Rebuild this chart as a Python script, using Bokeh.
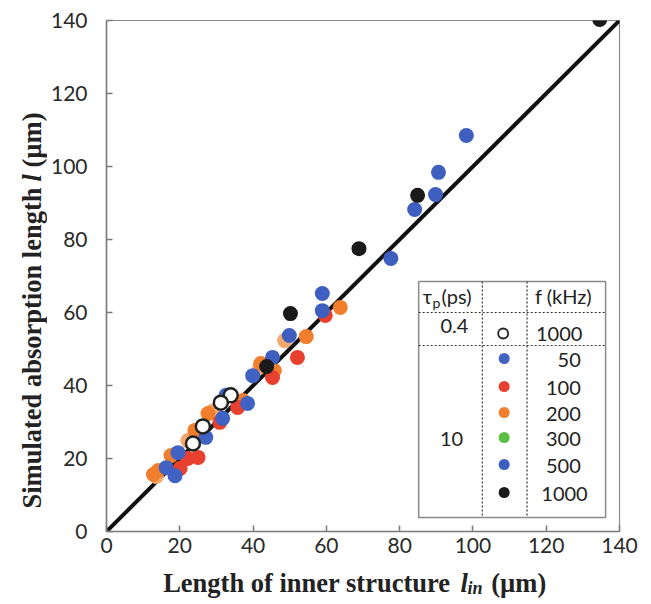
import math
from bokeh.plotting import figure
from bokeh.layouts import column, row
from bokeh.models import Range1d, Label, FixedTicker
from bokeh.embed import file_html
from bokeh.resources import INLINE

# ---------------- data ----------------
ticks = [0, 20, 40, 60, 80, 100, 120, 140]

diag_x = [0, 140]
diag_y = [0, 140]

# tau_p = 10 ps series
f50_x = [39.9, 38.5, 32.6, 31.7, 27.1, 19.5, 16.3, 18.7]
f50_y = [42.7, 35.1, 37.3, 31.0, 25.8, 21.6, 17.5, 15.3]

f100_x = [59.7, 52.1, 45.3, 35.8, 30.9, 25.0, 22.2, 20.1]
f100_y = [59.2, 47.7, 42.2, 34.0, 29.9, 20.3, 20.0, 17.3]

f200_x = [63.8, 54.5, 45.8, 42.1, 37.2, 27.7, 24.1, 17.6, 14.1, 12.8]
f200_y = [61.4, 53.4, 44.1, 46.0, 35.9, 32.3, 27.7, 20.8, 16.7, 15.6]

f200_pale_x = [48.6, 41.8, 22.2, 13.6, 29.0]
f200_pale_y = [52.3, 45.0, 24.9, 15.1, 33.0]

f500_x = [98.2, 90.6, 89.8, 84.1, 77.6, 58.9, 58.9, 49.9, 45.3]
f500_y = [108.5, 98.4, 92.3, 88.2, 74.8, 65.2, 60.5, 53.7, 47.7]

f1000_x = [134.6, 84.9, 68.9, 50.2, 43.7]
f1000_y = [140.3, 92.1, 77.5, 59.7, 45.2]

# tau_p = 0.4 ps, 1000 kHz
open_x = [33.9, 31.2, 26.3, 23.6]
open_y = [37.3, 35.3, 28.8, 24.1]

# legend table texts
tau_values = ["0.4", "10"]
freq_labels = ["50", "100", "200", "300", "500", "1000"]

# ---------------- styling ----------------
BLUE = "#4062c2"
BLUE2 = "#3f5fc0"
RED = "#e8402e"
ORANGE = "#f07e2c"
PALE = "#f5a86e"
GREEN = "#5bbf45"
BLACK = "#1a1a1a"

W, H = 651, 604
YT_W = 47          # width of the y-title strip
XT_H = 40          # height of the x-title strip
MAIN_W = W - YT_W
MAIN_H = H - XT_H
FL, FR, FT, FB = 103, 619, 20, 531   # frame edges on the page

def dx(px):
    return (px - FL) * 140.0 / (FR - FL)

def dy(py):
    return (FB - py) * 140.0 / (FB - FT)

p = figure(width=MAIN_W, height=MAIN_H, output_backend="svg", toolbar_location=None,
           x_range=Range1d(0, 140), y_range=Range1d(0, 140),
           min_border_left=FL - YT_W, min_border_right=W - FR, min_border_top=FT,
           min_border_bottom=MAIN_H - FB)
p.xgrid.visible = False
p.ygrid.visible = False
p.outline_line_color = "#8a8a8a"
p.outline_line_width = 1.2
p.background_fill_color = "white"
p.border_fill_color = "white"

for ax in (p.xaxis[0], p.yaxis[0]):
    ax.ticker = FixedTicker(ticks=ticks)
    ax.axis_line_color = "#7a7a7a"
    ax.axis_line_width = 1.5
    ax.major_tick_line_color = "#7a7a7a"
    ax.major_tick_line_width = 1.5
    ax.major_tick_in = 6
    ax.major_tick_out = 0
    ax.minor_tick_line_color = None
    ax.major_label_text_font = "Lato"
    ax.major_label_text_font_size = "21px"
    ax.major_label_text_color = "#2a2a2a"
p.yaxis[0].major_label_standoff = 19
p.xaxis[0].major_label_standoff = 6

# diagonal line
p.line(diag_x, diag_y, line_color="#111111", line_width=4)

# data points
SZ = 15
p.scatter(f200_pale_x, f200_pale_y, size=SZ, fill_color=PALE, line_color=None)
p.scatter(f200_x, f200_y, size=SZ, fill_color=ORANGE, line_color=None)
p.scatter(f100_x, f100_y, size=SZ, fill_color=RED, line_color=None)
p.scatter(f50_x, f50_y, size=SZ, fill_color=BLUE, line_color=None)
p.scatter(f500_x, f500_y, size=SZ, fill_color=BLUE2, line_color=None)
p.scatter(f1000_x, f1000_y, size=SZ, fill_color=BLACK, line_color=None)
p.scatter(open_x, open_y, size=SZ - 1, fill_color="white", line_color="#222222", line_width=2.5)

# ---------------- legend table ----------------
L, R, T, B = dx(417), dx(605), dy(281), dy(517)
C1, C2 = dx(481), dx(526)
R1, R2 = dy(312), dy(345)
p.quad(left=[L], right=[R], top=[T], bottom=[B], fill_color="white",
       line_color="#8a8a8a", line_width=1.5)
p.segment(x0=[C1, C2], y0=[T, T], x1=[C1, C2], y1=[B, B],
          line_color="#333333", line_width=1.2, line_dash="2 2")
p.segment(x0=[L, L], y0=[R1, R2], x1=[R, R], y1=[R1, R2],
          line_color="#333333", line_width=1.2, line_dash="2 2")

TFONT = "Lato"
def lab(fig, x, y, txt, size="20px", align="left", baseline="middle", font=TFONT,
        style="normal", angle=0.0):
    l = Label(x=x, y=y, text=txt, text_font=font, text_font_size=size,
              text_align=align, text_baseline=baseline, text_color="#222222",
              text_font_style=style, angle=angle)
    fig.add_layout(l)
    return l

lab(p, dx(421), dy(295), "\u03c4")
lab(p, dx(431), dy(302), "p", size="14px")
lab(p, dx(440), dy(295), "(ps)")
lab(p, dx(534), dy(295), "f (kHz)")
lab(p, dx(453), dy(325), tau_values[0], align="center")
lab(p, dx(450), dy(438), tau_values[1], align="center")

p.scatter([dx(502)], [dy(333)], size=10, fill_color="white", line_color="#222222", line_width=1.8)
lab(p, dx(535), dy(333), "1000")

leg_colors = [BLUE, RED, ORANGE, GREEN, BLUE2, BLACK]
leg_py = [358, 386, 412, 437, 464, 492]
leg_rx = [580, 580, 580, 580, 580, 587]
for c, py, rx, t in zip(leg_colors, leg_py, leg_rx, freq_labels):
    p.scatter([dx(503)], [dy(py)], size=11, fill_color=c, line_color=None)
    lab(p, dx(rx), dy(py + 1), t, align="right")

# ---------------- axis titles (mixed upright / italic), in side strips ----------------
SERIF = "Liberation Serif"
TS = "26.5px"

# x-title strip under the main plot: same left/right borders and x range as the plot
xt = figure(width=MAIN_W, height=XT_H, output_backend="svg", toolbar_location=None,
            title=None, x_range=Range1d(0, 140), y_range=Range1d(0, XT_H),
            x_axis_type=None, y_axis_type=None,
            min_border_left=FL - YT_W, min_border_right=W - FR,
            min_border_top=0, min_border_bottom=0)
# y-title strip at the left: same top/bottom borders and y range as the plot
yt = figure(width=YT_W, height=H, output_backend="svg", toolbar_location=None,
            title=None, x_range=Range1d(0, YT_W), y_range=Range1d(0, 140),
            x_axis_type=None, y_axis_type=None,
            min_border_left=0, min_border_right=0,
            min_border_top=FT, min_border_bottom=H - FB)
for f in (xt, yt):
    f.xgrid.visible = False
    f.ygrid.visible = False
    f.outline_line_color = None
    f.background_fill_color = "white"
    f.border_fill_color = "white"

def xy(py):
    return H - py   # strip spans page y MAIN_H..H
XB = 582            # baseline (page px, before the strip's own offset)
lab(xt, dx(160), xy(XB), "Length of inner structure", size=TS, baseline="alphabetic",
    font=SERIF, style="bold")
lab(xt, dx(459), xy(XB), "l", size=TS, baseline="alphabetic", font=SERIF, style="bold italic")
lab(xt, dx(466), xy(XB + 5), "in", size="18px", baseline="alphabetic", font=SERIF, style="bold italic")
lab(xt, dx(490), xy(XB), "(\u00b5m)", size=TS, baseline="alphabetic", font=SERIF, style="bold")

ang = math.pi / 2
lab(yt, 31, dy(508), "Simulated absorption length", size=TS, baseline="middle",
    font=SERIF, style="bold", angle=ang)
lab(yt, 31, dy(181), "l", size=TS, baseline="middle", font=SERIF, style="bold italic", angle=ang)
lab(yt, 31, dy(167), "(\u00b5m)", size=TS, baseline="middle", font=SERIF, style="bold", angle=ang)

layout = row(yt, column(p, xt, spacing=0), spacing=0)
open("out.html", "w").write(file_html(layout, INLINE))
